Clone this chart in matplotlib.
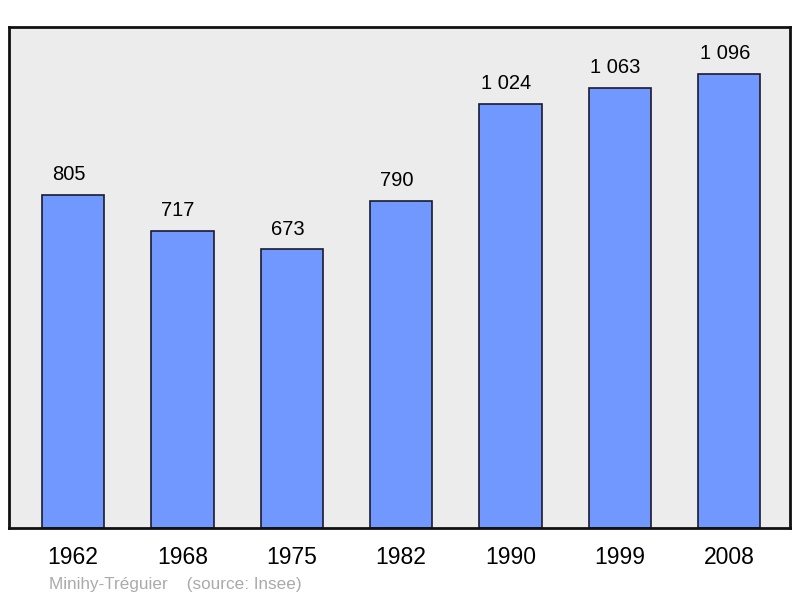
import matplotlib.pyplot as plt

annees = ["1962", "1968", "1975", "1982", "1990", "1999", "2008"]
population = [805, 717, 673, 790, 1024, 1063, 1096]
etiquettes = ["805", "717", "673", "790", "1 024", "1 063", "1 096"]

plt.rcParams["font.family"] = ["Liberation Sans", "DejaVu Sans"]

fig = plt.figure(figsize=(8, 5.98), dpi=100)
ax = fig.add_axes([9 / 800, 70 / 598, 781 / 800, 501 / 598])
ax.set_facecolor("#ececec")

x = range(len(annees))
ax.bar(x, population, width=0.57, color="#7098ff", edgecolor="#1a1a2e", linewidth=1.2)

# etiquettes un peu decalees a gauche comme sur l'original
for xi, v, lab in zip(x, population, etiquettes):
    ax.annotate(lab, (xi, v), xytext=(-3.2, 14.5), textcoords="offset points",
                ha="center", va="center", fontsize=14.5)

ax.set_xlim(-0.585, 6.555)
ax.set_ylim(0, 1209.5)
ax.set_xticks(list(x))
ax.set_xticklabels(annees, fontsize=16.5)
ax.set_yticks([])
ax.tick_params(axis="x", length=0, pad=13)
for s in ax.spines.values():
    s.set_linewidth(2)
    s.set_color("#111111")

fig.text(49 / 800, 1 - 584 / 598, "Minihy-Tréguier    (source: Insee)",
         color="#aaaaaa", fontsize=12.3, ha="left", va="center")

fig.savefig("out.png", dpi=100)
